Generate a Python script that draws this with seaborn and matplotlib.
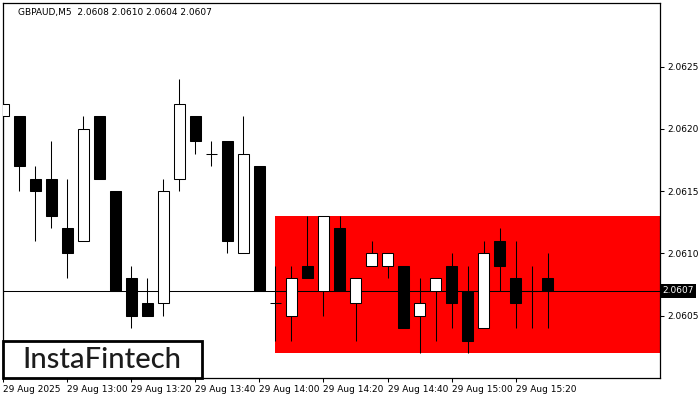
import matplotlib
matplotlib.use("Agg")
import matplotlib.pyplot as plt
import matplotlib.transforms as mtransforms
from matplotlib.patches import Rectangle
import seaborn as sns
import numpy as np

# GBPAUD M5 candles, 29 Aug 2025 12:40 .. 15:30
times = ["12:40", "12:45", "12:50", "12:55", "13:00", "13:05", "13:10", "13:15",
         "13:20", "13:25", "13:30", "13:35", "13:40", "13:45", "13:50", "13:55",
         "14:00", "14:05", "14:10", "14:15", "14:20", "14:25", "14:30", "14:35",
         "14:40", "14:45", "14:50", "14:55", "15:00", "15:05", "15:10", "15:15",
         "15:20", "15:25", "15:30"]
opens = [2.0621, 2.0621, 2.0616, 2.0616, 2.0612, 2.0611, 2.0621, 2.0615,
         2.0608, 2.0606, 2.0606, 2.0616, 2.0621, 2.0618, 2.0619, 2.0610,
         2.0617, 2.0606, 2.0605, 2.0609, 2.0607, 2.0612, 2.0606, 2.0609,
         2.0609, 2.0609, 2.0605, 2.0607, 2.0609, 2.0607, 2.0604, 2.0611,
         2.0608, 2.0607, 2.0608]
highs = [2.0622, 2.0621, 2.0617, 2.0619, 2.0616, 2.0621, 2.0621, 2.0615,
         2.0609, 2.0608, 2.0616, 2.0624, 2.0621, 2.0619, 2.0619, 2.0621,
         2.0617, 2.0609, 2.0609, 2.0613, 2.0613, 2.0613, 2.0608, 2.0611,
         2.0610, 2.0609, 2.0608, 2.0608, 2.0610, 2.0609, 2.0611, 2.0612,
         2.0611, 2.0609, 2.0610]
lows = [2.0616, 2.0615, 2.0611, 2.0612, 2.0608, 2.0611, 2.0616, 2.0607,
        2.0604, 2.0605, 2.0605, 2.0615, 2.0618, 2.0617, 2.0610, 2.0610,
        2.0607, 2.0603, 2.0603, 2.0608, 2.0605, 2.0607, 2.0603, 2.0609,
        2.0608, 2.0604, 2.0602, 2.0603, 2.0604, 2.0602, 2.0604, 2.0607,
        2.0604, 2.0604, 2.0604]
closes = [2.0622, 2.0617, 2.0615, 2.0613, 2.0610, 2.0620, 2.0616, 2.0607,
          2.0605, 2.0605, 2.0615, 2.0622, 2.0619, 2.0618, 2.0611, 2.0618,
          2.0607, 2.0606, 2.0608, 2.0608, 2.0613, 2.0607, 2.0608, 2.0610,
          2.0610, 2.0604, 2.0606, 2.0608, 2.0606, 2.0603, 2.0610, 2.0609,
          2.0606, 2.0607, 2.0607]

tick_idx = [0, 4, 8, 12, 16, 20, 24, 28, 32]
tick_labels = ["29 Aug 2025", "29 Aug 13:00", "29 Aug 13:20", "29 Aug 13:40",
               "29 Aug 14:00", "29 Aug 14:20", "29 Aug 14:40", "29 Aug 15:00",
               "29 Aug 15:20"]
price_ticks = [2.0605, 2.0610, 2.0615, 2.0620, 2.0625]

zone_start = 17
zone_low, zone_high = 2.0602, 2.0613
last_price = 2.0607
title = "GBPAUD,M5  2.0608 2.0610 2.0604 2.0607"

sns.set_theme(style="white")
plt.rcParams['font.family'] = ['DejaVu Sans']

fig = plt.figure(figsize=(7, 4), dpi=100)
ax = fig.add_axes([3 / 700, 22 / 400, 657 / 700, 375 / 400])

x = np.arange(len(times))
o = np.array(opens)
c = np.array(closes)
xmax = 41.03
lw = 0.75

# red zone
ax.add_patch(Rectangle((zone_start, zone_low), xmax - zone_start, zone_high - zone_low,
                       facecolor="#ff0000", edgecolor="none", zorder=0))

ax.axhline(last_price, color="black", lw=lw, zorder=1)

ax.vlines(x, lows, highs, color="black", lw=lw, zorder=2)
body_col = ["white" if cc > oo else "black" for oo, cc in zip(o, c)]
ax.bar(x, np.abs(c - o), bottom=np.minimum(o, c), width=0.66, color=body_col,
       edgecolor="black", linewidth=lw, zorder=3)

ax.set_xlim(-0.03, xmax)
ax.set_ylim(2.0600, 2.06301)

ax.yaxis.tick_right()
ax.set_yticks(price_ticks)
ax.set_yticklabels([f"{p:.4f}" for p in price_ticks])
ax.set_xticks(tick_idx)
ax.set_xticklabels(tick_labels, ha="left")
ax.tick_params(axis="both", which="both", direction="out", length=3, width=0.75,
               color="black", labelsize=6.5, labelcolor="black", pad=2)
ax.tick_params(axis="y", right=True, left=False)
ax.tick_params(axis="x", bottom=True)
for s in ax.spines.values():
    s.set_color("black")
    s.set_linewidth(0.9)
ax.grid(False)

# current price tag
trans = mtransforms.blended_transform_factory(ax.transAxes, ax.transData)
ax.text(1.004, last_price, "2.0607", transform=trans, ha="left", va="center",
        fontsize=6.5, color="white",
        bbox=dict(boxstyle="square,pad=0.25", facecolor="black", edgecolor="none"))

fig.text(18 / 700, 1 - 13 / 400, title, fontsize=6.5, color="black", va="center")

# logo box
fig.add_artist(Rectangle((2.5 / 700, 22.5 / 400), 199 / 700, 37 / 400, transform=fig.transFigure,
                         facecolor="white", edgecolor="black", linewidth=2, zorder=10))
fig.text(102 / 700, 1 - 360 / 400, "InstaFintech", fontsize=21, color="#1c1c1c",
         family=["Lato", "DejaVu Sans"], fontweight="medium",
         ha="center", va="center", zorder=11)

fig.savefig("out.png", dpi=100)
